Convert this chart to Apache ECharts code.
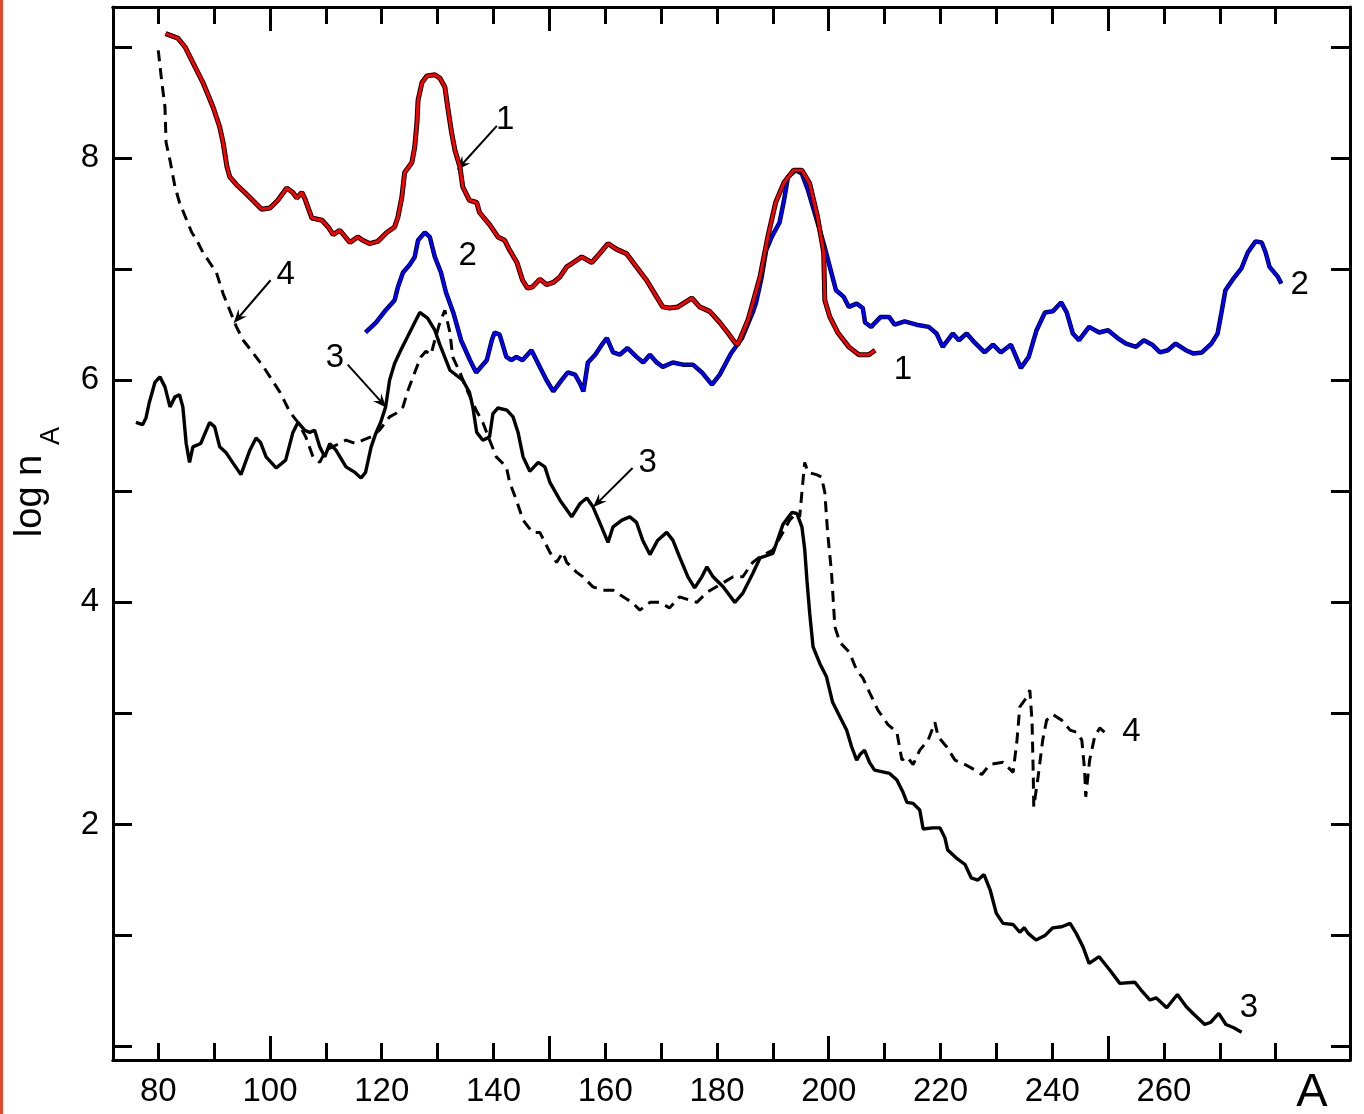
<!DOCTYPE html>
<html>
<head>
<meta charset="utf-8">
<title>log n_A vs A</title>
<script src="https://cdn.jsdelivr.net/npm/echarts@6/dist/echarts.min.js"></script>
<style>
  html, body { margin: 0; padding: 0; background: #fff; }
  #chart { width: 1364px; height: 1114px; }
</style>
</head>
<body>
<div id="chart"></div>
<script>
// Curve 1 (red, with black underlay): [A, log n_A]
const curve1 = [
  [81.3,9.12],[83.5,9.08],[84.8,9.0],[86.2,8.86],[88.0,8.68],[89.8,8.46],[91.0,8.28],[91.6,8.14],
  [92.3,7.92],[92.8,7.83],[94.0,7.76],[95.5,7.69],[96.9,7.62],[98.5,7.54],[100.0,7.55],[101.4,7.62],
  [103.0,7.73],[104.1,7.69],[104.8,7.64],[105.7,7.69],[106.2,7.64],[107.5,7.46],[109.3,7.44],[110.4,7.38],
  [111.3,7.31],[112.5,7.35],[114.3,7.24],[115.7,7.29],[116.6,7.26],[117.8,7.23],[119.3,7.25],[120.9,7.33],
  [122.3,7.38],[122.9,7.47],[123.6,7.65],[124.1,7.87],[125.4,7.96],[125.9,8.1],[126.3,8.32],[126.5,8.52],
  [127.2,8.68],[128.1,8.74],[129.5,8.75],[130.4,8.72],[131.3,8.64],[131.8,8.46],[132.5,8.23],[133.1,8.07],
  [134.0,7.92],[134.5,7.74],[135.7,7.62],[137.0,7.6],[137.5,7.51],[139.3,7.40],[140.8,7.29],[142.0,7.26],
  [142.9,7.17],[144.2,7.06],[145.2,6.9],[146.1,6.83],[147.0,6.84],[148.3,6.91],[149.5,6.86],[150.7,6.88],
  [151.9,6.93],[153.1,7.02],[154.3,7.06],[155.8,7.11],[157.6,7.06],[159.0,7.14],[160.5,7.23],[162.0,7.18],
  [163.8,7.14],[165.6,7.02],[167.4,6.9],[169.2,6.75],[170.3,6.66],[171.5,6.65],[173.0,6.66],[175.5,6.74],
  [176.9,6.66],[178.7,6.62],[180.5,6.52],[181.9,6.43],[183.2,6.34],[183.7,6.32],[185.6,6.55],[187.7,6.93],
  [189.1,7.29],[190.5,7.6],[192.0,7.78],[193.7,7.89],[195.2,7.89],[196.6,7.77],[198.0,7.47],[199.1,7.15],
  [199.3,6.72],[200.2,6.57],[201.6,6.43],[203.6,6.3],[205.4,6.23],[207.2,6.23],[208.3,6.27]
];

// Curve 2 (blue)
const curve2 = [
  [117.1,6.43],[119.0,6.52],[120.7,6.63],[122.3,6.72],[122.9,6.84],[123.8,6.97],[125.0,7.04],[125.9,7.11],
  [126.5,7.26],[127.7,7.33],[128.6,7.29],[129.5,7.11],[130.6,6.97],[131.5,6.79],[132.8,6.61],[134.2,6.36],
  [135.8,6.18],[136.9,6.07],[138.8,6.18],[139.7,6.36],[140.2,6.43],[141.1,6.41],[142.3,6.21],[143.2,6.18],
  [144.1,6.21],[145.2,6.18],[146.8,6.27],[148.3,6.12],[149.5,6.0],[150.7,5.9],[152.2,6.0],[153.3,6.07],
  [154.6,6.05],[155.5,5.97],[156.1,5.9],[156.9,6.16],[158.2,6.23],[159.4,6.32],[160.3,6.38],[161.4,6.25],
  [162.6,6.23],[164.0,6.29],[165.6,6.21],[166.8,6.16],[168.0,6.23],[169.2,6.16],[170.3,6.12],[172.1,6.16],
  [173.9,6.14],[175.7,6.14],[177.3,6.07],[179.1,5.96],[180.5,6.05],[182.5,6.24],[184.5,6.38],[186.4,6.61],
  [187.0,6.70],[188.0,6.93],[188.8,7.17],[189.8,7.29],[191.2,7.42],[192.0,7.62],[192.7,7.83],[194.1,7.89],
  [195.2,7.86],[196.3,7.71],[197.7,7.47],[199.1,7.23],[200.2,7.02],[201.3,6.81],[202.7,6.75],[203.6,6.66],
  [205.0,6.69],[206.1,6.65],[206.5,6.52],[207.6,6.48],[209.3,6.57],[210.8,6.57],[211.8,6.5],[213.6,6.53],
  [215.7,6.5],[217.9,6.48],[219.3,6.42],[220.4,6.3],[222.2,6.42],[223.3,6.36],[224.7,6.42],[226.1,6.34],
  [227.9,6.25],[229.4,6.32],[230.8,6.25],[232.6,6.32],[234.4,6.11],[235.8,6.21],[237.2,6.45],[238.7,6.61],
  [240.1,6.62],[241.6,6.7],[242.6,6.61],[243.7,6.42],[244.8,6.36],[246.6,6.48],[248.4,6.43],[250.0,6.45],
  [251.7,6.38],[253.2,6.33],[255.0,6.3],[256.4,6.36],[257.9,6.32],[259.3,6.25],[260.7,6.27],[262.1,6.33],
  [263.9,6.27],[265.3,6.24],[266.8,6.25],[268.5,6.33],[269.6,6.42],[270.3,6.61],[271.0,6.81],[272.5,6.92],
  [273.9,7.01],[275.0,7.15],[276.4,7.25],[277.5,7.24],[278.2,7.15],[278.9,7.02],[280.4,6.93],[281.0,6.87]
];

// Curve 3 (solid black)
const curve3 = [
  [76.0,5.62],[77.2,5.60],[77.8,5.66],[78.4,5.8],[79.4,5.98],[80.3,6.03],[81.2,5.94],[82.1,5.76],
  [83.0,5.85],[83.8,5.87],[84.4,5.76],[85.0,5.43],[85.6,5.26],[86.2,5.4],[87.6,5.43],[89.2,5.62],
  [90.1,5.58],[91.0,5.4],[92.1,5.35],[93.3,5.26],[94.8,5.15],[96.4,5.37],[97.5,5.48],[98.3,5.44],
  [99.3,5.31],[101.1,5.21],[102.8,5.28],[104.1,5.53],[105.0,5.62],[106.2,5.55],[107.1,5.53],[108.0,5.55],
  [108.9,5.4],[109.8,5.31],[110.7,5.43],[111.8,5.37],[113.6,5.22],[115.2,5.17],[116.3,5.12],[117.1,5.17],
  [118.1,5.4],[119.0,5.53],[119.8,5.62],[120.7,5.76],[121.4,6.0],[122.3,6.15],[123.4,6.27],[125.0,6.43],
  [126.8,6.61],[128.2,6.56],[129.5,6.45],[130.4,6.32],[132.2,6.09],[134.5,6.0],[135.7,5.89],[136.3,5.76],
  [137.0,5.53],[138.1,5.46],[139.3,5.49],[139.9,5.7],[140.8,5.75],[142.4,5.73],[143.5,5.67],[144.4,5.53],
  [145.3,5.31],[146.5,5.18],[148.0,5.26],[149.2,5.22],[150.1,5.08],[151.9,4.92],[154.0,4.77],[155.5,4.89],
  [156.7,4.94],[157.8,4.86],[159.0,4.72],[160.5,4.54],[161.4,4.68],[163.0,4.74],[164.4,4.77],[165.6,4.72],
  [166.7,4.56],[168.0,4.43],[169.4,4.56],[171.0,4.63],[172.1,4.56],[173.3,4.41],[174.8,4.23],[176.0,4.13],
  [177.3,4.23],[178.2,4.32],[179.3,4.23],[181.1,4.14],[183.2,4.0],[184.6,4.08],[186.4,4.26],[187.7,4.40],
  [190.0,4.44],[191.8,4.70],[193.4,4.81],[194.3,4.8],[195.2,4.68],[195.7,4.48],[196.1,4.2],[196.6,3.9],
  [197.2,3.6],[198.4,3.45],[199.6,3.33],[200.7,3.1],[202.0,2.97],[203.2,2.85],[204.1,2.7],[205.0,2.58],
  [205.6,2.63],[206.4,2.67],[207.3,2.56],[208.2,2.49],[210.9,2.46],[212.2,2.4],[213.3,2.29],[214.0,2.2],
  [215.1,2.19],[216.3,2.13],[216.9,1.96],[218.6,1.97],[219.9,1.97],[220.8,1.88],[221.3,1.77],[222.8,1.7],
  [224.4,1.64],[225.5,1.52],[226.7,1.5],[227.8,1.55],[228.9,1.41],[230.0,1.2],[231.2,1.11],[233.0,1.1],
  [234.2,1.03],[235.0,1.07],[235.7,1.02],[237.1,0.96],[238.7,1.0],[240.1,1.07],[241.7,1.08],[243.2,1.11],
  [244.3,1.02],[245.5,0.9],[246.6,0.75],[248.4,0.81],[250.3,0.69],[252.1,0.57],[254.8,0.58],[255.9,0.51],
  [257.5,0.42],[258.6,0.44],[260.5,0.35],[262.4,0.47],[264.0,0.36],[265.4,0.29],[267.3,0.2],[268.4,0.22],
  [269.8,0.3],[271.1,0.2],[272.5,0.17],[273.9,0.13]
];

// Curve 4 (dashed black)
const curve4 = [
  [80.0,8.97],[80.6,8.7],[81.2,8.46],[81.4,8.14],[82.1,7.98],[83.0,7.74],[83.8,7.6],[85.1,7.44],
  [86.0,7.33],[86.9,7.26],[88.0,7.15],[89.2,7.06],[90.4,6.97],[91.6,6.78],[92.8,6.63],[94.0,6.48],
  [95.2,6.36],[96.9,6.25],[98.7,6.13],[100.0,6.03],[101.8,5.89],[103.6,5.71],[105.0,5.62],[106.4,5.49],
  [107.7,5.31],[108.9,5.26],[110.0,5.37],[113.6,5.46],[115.3,5.43],[116.6,5.46],[118.1,5.49],[119.6,5.55],
  [121.4,5.67],[122.5,5.7],[123.8,5.76],[124.7,5.91],[125.9,6.07],[127.0,6.21],[127.9,6.26],[128.8,6.23],
  [129.5,6.36],[130.4,6.52],[131.3,6.63],[132.2,6.43],[132.7,6.21],[134.0,6.07],[135.0,5.94],[136.9,5.73],
  [138.1,5.62],[139.0,5.5],[140.5,5.31],[142.3,5.22],[142.9,5.08],[144.1,4.92],[145.3,4.74],[147.0,4.63],
  [148.3,4.63],[150.1,4.45],[151.3,4.36],[152.4,4.45],[153.1,4.36],[154.9,4.27],[156.0,4.23],[157.8,4.14],
  [159.6,4.11],[161.4,4.11],[163.2,4.05],[164.8,4.0],[166.2,3.93],[168.0,4.0],[169.8,4.0],[171.5,3.95],
  [173.3,4.05],[176.4,4.0],[178.2,4.09],[182.9,4.23],[184.6,4.23],[186.4,4.36],[187.7,4.41],[190.0,4.47],
  [191.8,4.63],[193.0,4.74],[194.3,4.81],[194.8,4.77],[195.2,4.99],[195.7,5.26],[196.3,5.17],[197.8,5.15],
  [198.7,5.13],[199.3,4.99],[199.8,4.63],[200.5,4.27],[201.1,3.78],[202.0,3.64],[203.7,3.55],[205.0,3.39],
  [206.1,3.32],[207.3,3.19],[208.8,3.03],[210.6,2.9],[212.2,2.83],[213.1,2.58],[214.0,2.61],[215.1,2.54],
  [216.3,2.67],[217.8,2.76],[219.0,2.92],[219.6,2.79],[221.1,2.7],[222.6,2.58],[224.4,2.54],[226.2,2.49],
  [227.4,2.45],[228.8,2.54],[231.2,2.56],[233.0,2.47],[233.7,2.76],[234.2,3.06],[235.5,3.15],[236.0,3.21],
  [236.4,2.92],[236.6,2.47],[236.7,2.16],[237.4,2.4],[238.3,2.76],[239.0,2.94],[240.1,2.99],[241.7,2.94],
  [243.2,2.85],[244.4,2.83],[245.3,2.76],[245.8,2.49],[246.0,2.25],[246.7,2.58],[247.6,2.79],[248.5,2.87],
  [249.4,2.83]
];

// Axis ticks and labels
const xLabelValues = [80, 100, 120, 140, 160, 180, 200, 220, 240, 260];
const xMinorTicks = [80, 90, 110, 120, 130, 140, 160, 170, 180, 190, 210, 220, 230, 240, 260, 270, 280];
const xMajorTicks = [100, 150, 200, 250];
const yLabelValues = [2, 4, 6, 8];
const yTicks = [0, 1, 2, 3, 4, 5, 6, 7, 8, 9];

// Curve numbers: [text, A, log n_A]
const curveNumbers = [
  ['1', 142.1, 8.34], ['1', 213.3, 6.09],
  ['2', 135.4, 7.12], ['2', 284.3, 6.86],
  ['3', 111.6, 6.2], ['3', 167.6, 5.26], ['3', 275.2, 0.35],
  ['4', 102.8, 6.95], ['4', 254.2, 2.83]
];
// Pointer arrows: [A from, y from, A to, y to]
const pointerArrows = [
  [140.6, 8.29, 134.3, 7.94],
  [113.9, 6.14, 120.0, 5.80],
  [164.9, 5.21, 158.7, 4.90],
  [100.1, 6.90, 94.3, 6.56]
];

const X_MIN = 71.9, X_MAX = 293.3;
const Y_MIN = -0.12, Y_MAX = 9.36;
const FONT = 'Liberation Sans, Arial, Helvetica, sans-serif';

const chart = echarts.init(document.getElementById('chart'), null, { renderer: 'canvas' });

function xAxisDef(position, ticks, tickLen, withLabels) {
  return {
    type: 'value', position: position, min: X_MIN, max: X_MAX,
    axisLine: { show: true, onZero: false, lineStyle: { color: '#000', width: 3 } },
    axisTick: { show: true, inside: true, length: tickLen, customValues: ticks,
                lineStyle: { color: '#000', width: 3 } },
    axisLabel: withLabels ? { show: true, customValues: xLabelValues, fontSize: 33,
                fontFamily: FONT, color: '#000', margin: 15 } : { show: false },
    splitLine: { show: false }
  };
}

const option = {
  animation: false,
  backgroundColor: '#fff',
  grid: { left: 113, right: 14, top: 7, bottom: 54, outerBoundsMode: 'none' },
  xAxis: [
    Object.assign(xAxisDef('bottom', xMinorTicks, 17, true), {
      name: 'A', nameLocation: 'end', nameGap: -38,
      nameTextStyle: { fontSize: 47, fontFamily: FONT, color: '#000',
                       align: 'center', verticalAlign: 'top', padding: [10, 0, 0, 0] }
    }),
    xAxisDef('bottom', xMajorTicks, 24, false),
    xAxisDef('top', xMinorTicks, 17, false),
    xAxisDef('top', xMajorTicks, 24, false)
  ],
  yAxis: [
    {
      type: 'value', position: 'left', min: Y_MIN, max: Y_MAX,
      axisLine: { show: true, onZero: false, lineStyle: { color: '#000', width: 3 } },
      axisTick: { show: true, inside: true, length: 19, customValues: yTicks,
                  lineStyle: { color: '#000', width: 3 } },
      axisLabel: { show: true, customValues: yLabelValues, fontSize: 33, fontFamily: FONT,
                   color: '#000', margin: 14 },
      splitLine: { show: false }
    },
    {
      type: 'value', position: 'right', min: Y_MIN, max: Y_MAX,
      axisLine: { show: true, onZero: false, lineStyle: { color: '#000', width: 3 } },
      axisTick: { show: true, inside: true, length: 19, customValues: yTicks,
                  lineStyle: { color: '#000', width: 3 } },
      axisLabel: { show: false },
      splitLine: { show: false }
    }
  ],
  graphic: [
    { type: 'rect', left: 0, top: 0, shape: { width: 3, height: 1114 },
      style: { fill: '#e4472b' }, silent: true },
    { type: 'text', x: 31, y: 496, rotation: Math.PI / 2,
      style: { text: 'log n', fontSize: 38, fontFamily: FONT, fill: '#000',
               align: 'center', verticalAlign: 'middle' } },
    { type: 'text', x: 52, y: 436, rotation: Math.PI / 2,
      style: { text: 'A', fontSize: 27, fontFamily: FONT, fill: '#000',
               align: 'center', verticalAlign: 'middle' } }
  ],
  series: [
    {
      name: 'curve 4', type: 'line', data: curve4, showSymbol: false,
      lineStyle: { color: '#000', width: 3, type: [11, 7] }, z: 2
    },
    {
      name: 'curve 3', type: 'line', data: curve3, showSymbol: false,
      lineStyle: { color: '#000', width: 3.4 }, z: 2
    },
    {
      name: 'curve 2 outline', type: 'line', data: curve2, showSymbol: false,
      lineStyle: { color: '#000', width: 4.5 }, z: 3
    },
    {
      name: 'curve 2', type: 'line', data: curve2, showSymbol: false,
      lineStyle: { color: '#0000ff', width: 3 }, z: 4
    },
    {
      name: 'curve 1 outline', type: 'line', data: curve1, showSymbol: false,
      lineStyle: { color: '#000', width: 5 }, z: 5
    },
    {
      name: 'curve 1', type: 'line', data: curve1, showSymbol: false,
      lineStyle: { color: '#ff0000', width: 3 }, z: 6
    },
    {
      name: 'curve numbers', type: 'scatter', symbolSize: 0, z: 7,
      itemStyle: { opacity: 1 },
      data: curveNumbers.map(d => ({ name: d[0], value: [d[1], d[2]] })),
      label: { show: true, position: 'inside', formatter: '{b}', fontSize: 33,
               fontFamily: FONT, color: '#000', opacity: 1 },
      markLine: {
        silent: true, animation: false,
        symbol: ['none', 'path://M10,0 L20,22 L10,14 L0,22 Z'],
        symbolSize: [11, 14],
        label: { show: false },
        lineStyle: { color: '#000', width: 2, type: 'solid', opacity: 1 },
        emphasis: { disabled: true },
        data: pointerArrows.map(a => [{ coord: [a[0], a[1]] }, { coord: [a[2], a[3]] }])
      }
    }
  ]
};

chart.setOption(option);
</script>
</body>
</html>
